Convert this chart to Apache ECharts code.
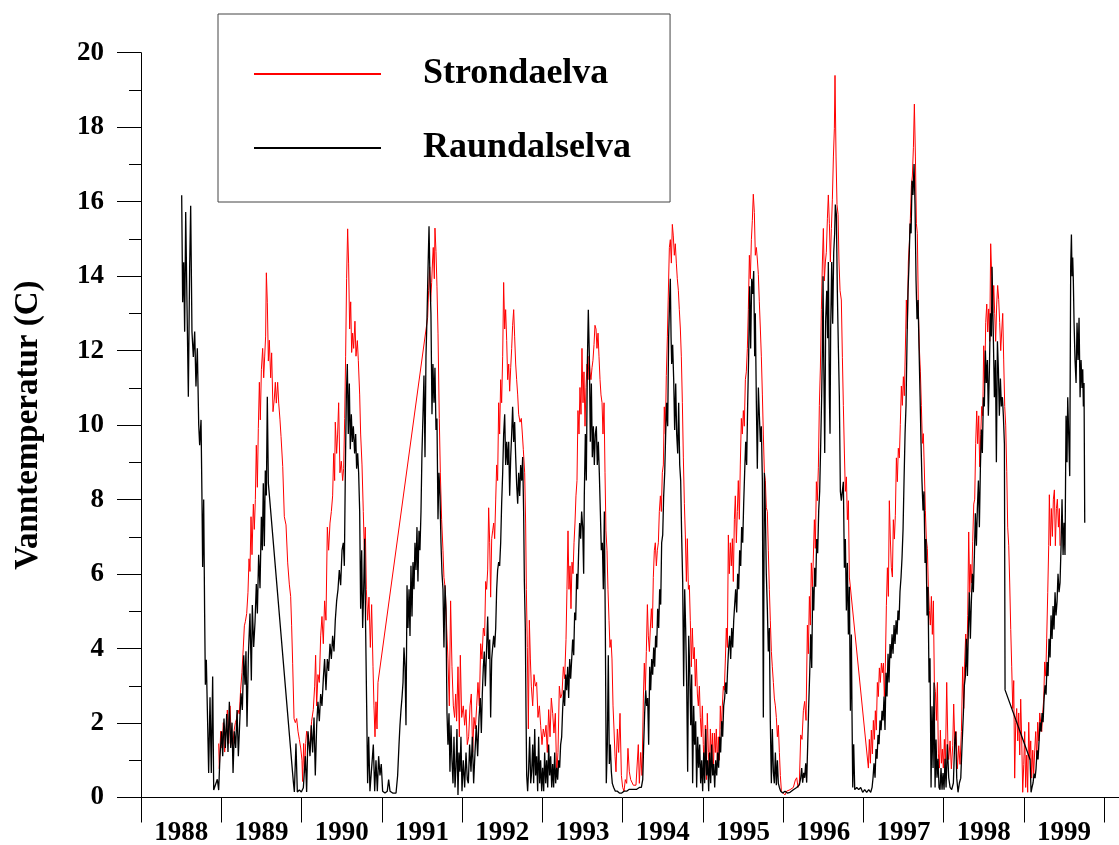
<!DOCTYPE html>
<html>
<head>
<meta charset="utf-8">
<script src="https://cdn.jsdelivr.net/npm/echarts@6/dist/echarts.min.js"></script>
<style>
  html, body { margin: 0; padding: 0; background: #fff; }
  #chart { width: 1119px; height: 845px; }
</style>
</head>
<body>
<div id="chart"></div>
<script>
// x-axis year bands
var years = ['1988', '1989', '1990', '1991', '1992', '1993', '1994', '1995', '1996', '1997', '1998', '1999'];

// Strondaelva, [decimal year, temp C]
var strondaelva8889 = [[1988.968,1.45],[1988.976,0.77],[1988.993,1.78],[1989.009,1.33],[1989.026,2.01],[1989.043,1.22],[1989.059,1.78],[1989.076,2.35],[1989.093,1.45],[1989.109,2.46],[1989.126,1.56],[1989.142,1.33],[1989.159,1.78],[1989.176,2.01],[1989.192,2.12],[1989.209,2.35],[1989.225,2.24],[1989.242,2.91],[1989.258,3.36],[1989.275,4.04],[1989.288,4.61],[1989.300,4.72],[1989.317,4.94],[1989.333,5.51],[1989.346,6.41],[1989.358,6.07],[1989.371,7.54],[1989.383,6.52],[1989.400,7.88],[1989.412,7.20],[1989.425,8.00],[1989.437,9.46],[1989.450,8.33],[1989.462,9.91],[1989.475,11.15],[1989.487,10.14],[1989.500,11.49],[1989.516,12.06],[1989.529,11.27],[1989.541,11.83],[1989.553,12.39],[1989.562,14.09],[1989.574,13.30],[1989.587,11.72],[1989.599,12.28],[1989.616,11.27],[1989.628,11.94],[1989.645,10.36],[1989.661,10.70],[1989.674,11.15],[1989.686,10.59],[1989.703,11.15],[1989.716,10.59],[1989.732,10.14],[1989.745,9.69],[1989.766,8.89],[1989.786,7.54],[1989.807,7.32],[1989.828,6.30],[1989.848,5.73],[1989.865,5.40],[1989.877,4.61],[1989.890,3.59],[1989.907,2.12],[1989.923,2.01],[1989.940,2.12],[1989.956,1.78],[1989.973,1.56],[1989.990,1.33],[1990.006,1.00],[1990.014,0.43],[1990.027,1.45],[1990.039,0.66],[1990.052,1.45],[1990.064,1.78],[1990.081,1.56]];
var strondaelva9091 = [[1990.106,1.42],[1990.126,2.05],[1990.147,2.36],[1990.164,2.99],[1990.176,3.82],[1990.189,2.46],[1990.205,3.30],[1990.222,3.09],[1990.239,4.34],[1990.255,4.86],[1990.272,4.13],[1990.288,5.28],[1990.305,4.76],[1990.322,7.26],[1990.338,6.64],[1990.355,7.37],[1990.372,7.68],[1990.388,8.10],[1990.401,9.24],[1990.413,8.51],[1990.421,10.08],[1990.438,9.24],[1990.450,9.76],[1990.463,10.60],[1990.479,8.72],[1990.496,9.03],[1990.513,8.51],[1990.525,8.83],[1990.538,10.18],[1990.550,11.85],[1990.562,13.93],[1990.575,15.27],[1990.587,14.35],[1990.600,12.58],[1990.613,13.31],[1990.625,11.95],[1990.637,12.47],[1990.650,12.06],[1990.666,12.79],[1990.679,11.85],[1990.696,12.27],[1990.708,11.74],[1990.725,10.81],[1990.737,9.76],[1990.754,8.93],[1990.770,7.68],[1990.783,6.64],[1990.795,7.26],[1990.808,5.59],[1990.824,4.76],[1990.841,5.38],[1990.858,4.03],[1990.874,5.18],[1990.891,3.51],[1990.903,2.46],[1990.916,1.63],[1990.928,2.57],[1990.941,1.84],[1990.953,3.09],[1991.572,12.89],[1991.584,13.62],[1991.597,14.25],[1991.609,13.31],[1991.622,13.83],[1991.634,14.46],[1991.642,14.77],[1991.655,13.93],[1991.663,15.29],[1991.676,14.66],[1991.688,13.73],[1991.701,12.47],[1991.717,10.18],[1991.730,8.72],[1991.746,7.47],[1991.763,6.64],[1991.775,5.91],[1991.792,5.59],[1991.809,4.55],[1991.825,3.72],[1991.842,2.46],[1991.858,5.28],[1991.875,3.51],[1991.892,2.46],[1991.908,2.15],[1991.921,2.78],[1991.933,2.05],[1991.950,3.51],[1991.967,1.63],[1991.979,3.82],[1991.996,2.15],[1992.016,2.46],[1992.033,1.94],[1992.050,2.36],[1992.066,1.42]];
var strondaelva9293 = [[1992.083,1.63],[1992.100,2.46],[1992.116,2.78],[1992.133,1.21],[1992.149,2.15],[1992.166,1.84],[1992.183,2.46],[1992.199,3.09],[1992.216,2.46],[1992.233,4.13],[1992.249,3.72],[1992.266,4.55],[1992.282,4.34],[1992.295,5.80],[1992.307,5.59],[1992.320,6.11],[1992.332,7.78],[1992.345,6.84],[1992.357,5.38],[1992.370,6.95],[1992.382,7.16],[1992.395,7.37],[1992.407,6.95],[1992.420,7.99],[1992.432,8.93],[1992.444,8.51],[1992.457,10.60],[1992.469,9.76],[1992.482,11.22],[1992.494,10.60],[1992.507,11.85],[1992.519,13.83],[1992.532,12.58],[1992.544,13.10],[1992.557,12.27],[1992.569,11.22],[1992.582,11.64],[1992.594,10.91],[1992.607,11.54],[1992.619,12.06],[1992.631,12.68],[1992.644,13.10],[1992.656,12.37],[1992.669,11.64],[1992.681,11.22],[1992.694,10.81],[1992.706,10.29],[1992.723,10.08],[1992.739,10.18],[1992.752,9.76],[1992.764,9.35],[1992.781,8.72],[1992.793,7.37],[1992.802,5.59],[1992.814,4.03],[1992.827,1.84],[1992.839,4.76],[1992.852,3.72],[1992.864,2.99],[1992.881,2.46],[1992.897,3.30],[1992.914,2.99],[1992.930,3.09],[1992.947,2.15],[1992.964,2.46],[1992.980,1.94],[1992.997,1.42],[1993.013,1.84],[1993.030,1.63],[1993.047,1.94],[1993.063,1.21],[1993.080,2.36],[1993.097,1.63],[1993.113,2.67],[1993.130,2.26],[1993.146,1.73],[1993.163,2.26],[1993.180,0.59],[1993.196,1.21],[1993.213,2.99],[1993.229,2.67],[1993.246,2.78],[1993.263,3.51],[1993.279,3.19],[1993.296,4.24],[1993.308,5.59],[1993.321,7.16],[1993.333,5.59],[1993.346,6.22],[1993.358,5.07],[1993.371,6.32],[1993.383,6.01],[1993.396,6.84],[1993.408,7.37],[1993.420,8.10],[1993.433,8.51],[1993.445,10.39],[1993.458,9.76],[1993.470,11.01],[1993.483,10.29],[1993.495,12.06],[1993.508,10.60],[1993.520,11.43],[1993.533,9.97],[1993.545,11.01],[1993.558,11.64],[1993.570,11.22],[1993.583,11.85],[1993.595,11.43],[1993.607,11.22],[1993.620,11.54],[1993.632,11.74],[1993.645,12.16],[1993.657,12.68],[1993.670,12.58],[1993.682,12.06],[1993.695,12.47],[1993.707,11.85],[1993.720,11.22],[1993.732,10.81],[1993.745,10.60],[1993.757,9.76],[1993.770,10.60],[1993.782,8.72],[1993.794,7.16],[1993.807,6.64],[1993.819,5.59],[1993.832,4.76],[1993.844,4.03],[1993.857,4.24],[1993.869,3.72],[1993.882,2.46],[1993.894,1.84],[1993.907,1.11],[1993.919,0.69],[1993.936,1.84],[1993.952,1.21],[1993.969,2.26],[1993.986,0.59],[1994.002,0.27],[1994.019,0.17],[1994.035,0.48],[1994.052,0.38],[1994.068,1.32],[1994.085,0.69]];
var strondaelva9495 = [[1994.102,0.48],[1994.135,0.33],[1994.168,0.33],[1994.197,1.42],[1994.210,0.38],[1994.227,1.21],[1994.243,0.59],[1994.260,2.67],[1994.272,3.61],[1994.285,2.88],[1994.297,3.92],[1994.310,5.18],[1994.322,4.34],[1994.335,3.92],[1994.347,4.55],[1994.360,5.07],[1994.372,4.55],[1994.384,5.91],[1994.397,6.64],[1994.409,6.84],[1994.422,6.22],[1994.434,6.64],[1994.447,6.84],[1994.459,7.68],[1994.472,8.10],[1994.484,7.68],[1994.496,8.72],[1994.509,8.93],[1994.521,10.49],[1994.534,9.76],[1994.546,11.33],[1994.559,12.37],[1994.571,13.52],[1994.584,14.77],[1994.596,14.98],[1994.609,14.35],[1994.621,15.39],[1994.633,15.08],[1994.646,14.56],[1994.658,14.87],[1994.671,14.35],[1994.683,13.93],[1994.696,13.62],[1994.708,13.10],[1994.721,12.58],[1994.733,11.85],[1994.746,10.60],[1994.758,9.14],[1994.771,7.89],[1994.783,7.05],[1994.796,5.80],[1994.808,6.95],[1994.821,5.59],[1994.833,5.70],[1994.845,4.76],[1994.858,3.51],[1994.870,4.55],[1994.883,3.72],[1994.895,4.03],[1994.908,2.99],[1994.920,3.72],[1994.933,2.78],[1994.945,2.46],[1994.958,2.99],[1994.970,2.15],[1994.983,1.63],[1994.995,2.46],[1995.007,1.42],[1995.020,0.59],[1995.032,1.94],[1995.045,0.48],[1995.057,2.26],[1995.070,1.21],[1995.082,0.59],[1995.095,1.84],[1995.107,1.00],[1995.120,1.73],[1995.132,0.69],[1995.145,1.73],[1995.157,1.21],[1995.169,1.84],[1995.182,0.90],[1995.194,1.63],[1995.207,1.00],[1995.219,2.46],[1995.232,1.84],[1995.244,2.46],[1995.257,2.99],[1995.269,2.88],[1995.282,3.72],[1995.294,4.55],[1995.307,4.03],[1995.319,7.05],[1995.331,6.01],[1995.344,6.84],[1995.356,6.22],[1995.369,6.95],[1995.381,5.80],[1995.394,7.47],[1995.406,8.10],[1995.419,6.84],[1995.431,7.68],[1995.443,8.51],[1995.456,7.47],[1995.468,8.93],[1995.481,10.18],[1995.493,9.76],[1995.506,10.39],[1995.518,9.97],[1995.531,11.22],[1995.543,11.43],[1995.556,12.06],[1995.568,13.10],[1995.581,14.56],[1995.593,13.93],[1995.606,14.98],[1995.618,15.50],[1995.630,16.20],[1995.643,15.71],[1995.655,14.56],[1995.668,14.77],[1995.680,14.46],[1995.693,14.04],[1995.705,13.31],[1995.718,12.58],[1995.730,11.85],[1995.743,10.81],[1995.755,9.76],[1995.768,8.72],[1995.780,8.51],[1995.792,7.78],[1995.805,7.68],[1995.817,6.64],[1995.830,5.59],[1995.842,4.76],[1995.855,3.92],[1995.867,3.51],[1995.880,3.09],[1995.892,2.67],[1995.905,2.46],[1995.917,2.15],[1995.930,1.63],[1995.942,1.94],[1995.955,1.21],[1995.967,0.59],[1995.980,0.17],[1996.004,0.17],[1996.025,0.07],[1996.046,0.17],[1996.067,0.12]];
var strondaelva9697 = [[1996.088,0.21],[1996.129,0.27],[1996.154,0.47],[1996.171,0.53],[1996.187,0.27],[1996.204,0.40],[1996.221,1.68],[1996.237,1.56],[1996.254,2.33],[1996.270,2.58],[1996.287,2.07],[1996.304,4.63],[1996.316,3.86],[1996.329,5.40],[1996.341,4.63],[1996.353,6.30],[1996.366,5.66],[1996.378,6.43],[1996.391,7.46],[1996.403,6.69],[1996.416,8.48],[1996.428,7.97],[1996.441,8.87],[1996.453,10.53],[1996.466,11.56],[1996.478,13.10],[1996.491,14.38],[1996.503,15.28],[1996.515,13.87],[1996.528,14.38],[1996.540,14.64],[1996.553,15.54],[1996.565,16.18],[1996.578,15.41],[1996.590,14.38],[1996.603,15.28],[1996.615,16.05],[1996.628,17.20],[1996.640,17.97],[1996.648,19.39],[1996.661,17.20],[1996.673,15.92],[1996.686,15.66],[1996.698,14.38],[1996.711,13.61],[1996.727,13.36],[1996.740,11.82],[1996.752,10.53],[1996.765,9.25],[1996.777,8.22],[1996.790,8.61],[1996.802,7.46],[1996.815,7.97],[1996.827,5.92],[1997.064,0.79],[1997.076,1.56],[1997.089,0.92],[1997.101,1.81],[1997.114,1.17],[1997.126,2.07],[1997.139,1.56],[1997.151,2.33],[1997.163,1.81],[1997.176,3.09],[1997.188,2.71],[1997.201,3.48],[1997.213,3.09],[1997.226,3.61],[1997.238,3.35],[1997.251,3.61],[1997.263,2.71],[1997.276,3.61],[1997.288,5.15],[1997.301,6.17],[1997.313,5.40],[1997.325,7.97],[1997.338,6.94],[1997.350,6.17],[1997.363,5.92],[1997.375,7.46],[1997.388,6.94],[1997.400,7.58],[1997.413,9.12],[1997.425,8.48],[1997.437,9.38],[1997.450,9.12],[1997.462,10.02],[1997.475,11.05],[1997.487,10.53],[1997.500,11.30],[1997.512,10.79],[1997.525,12.07],[1997.537,13.36],[1997.550,12.59],[1997.562,14.38],[1997.575,14.90],[1997.587,15.54],[1997.600,16.44],[1997.612,16.69],[1997.625,17.46],[1997.637,18.62],[1997.650,17.20],[1997.662,15.41],[1997.674,15.15],[1997.687,13.10],[1997.699,12.07],[1997.712,11.43],[1997.724,10.53],[1997.737,9.51],[1997.749,9.77],[1997.762,8.74],[1997.774,7.71],[1997.786,6.94],[1997.799,6.69],[1997.811,5.66],[1997.824,5.02],[1997.836,4.63],[1997.849,5.40],[1997.861,4.38],[1997.874,5.28],[1997.886,3.09],[1997.899,2.84],[1997.911,2.07],[1997.924,3.09],[1997.936,1.17],[1997.949,0.79],[1997.961,1.81],[1997.974,0.92],[1997.986,1.30],[1997.998,0.79],[1998.011,1.56],[1998.023,0.79],[1998.040,3.09],[1998.057,1.17]];
var strondaelva9899 = [[1998.065,1.02],[1998.082,1.52],[1998.098,0.77],[1998.115,1.39],[1998.127,2.51],[1998.140,1.52],[1998.156,1.77],[1998.173,0.77],[1998.190,1.39],[1998.206,0.89],[1998.223,1.77],[1998.239,3.51],[1998.252,2.39],[1998.264,3.64],[1998.277,4.39],[1998.289,3.51],[1998.302,4.89],[1998.314,7.13],[1998.327,5.51],[1998.339,6.26],[1998.352,5.76],[1998.364,6.88],[1998.377,7.88],[1998.389,8.01],[1998.401,9.50],[1998.414,10.38],[1998.426,9.50],[1998.439,10.25],[1998.451,8.88],[1998.464,9.75],[1998.476,10.50],[1998.489,10.25],[1998.501,12.13],[1998.514,11.13],[1998.526,12.75],[1998.539,13.25],[1998.551,12.50],[1998.563,13.12],[1998.576,12.25],[1998.588,14.87],[1998.601,14.00],[1998.613,13.00],[1998.626,13.75],[1998.638,13.00],[1998.650,12.25],[1998.663,13.25],[1998.675,13.75],[1998.688,13.37],[1998.700,12.75],[1998.713,12.00],[1998.725,12.50],[1998.738,13.00],[1998.750,11.75],[1998.763,10.50],[1998.775,10.00],[1998.788,8.76],[1998.800,7.26],[1998.813,6.76],[1998.825,5.76],[1998.838,4.51],[1998.850,3.51],[1998.863,2.39],[1998.875,3.14],[1998.887,0.52],[1998.900,2.02],[1998.912,2.39],[1998.925,1.52],[1998.937,2.27],[1998.950,1.14],[1998.962,2.64],[1998.975,1.52],[1998.987,0.14],[1999.000,0.89],[1999.012,1.77],[1999.024,0.27],[1999.037,1.14],[1999.049,0.14],[1999.062,2.02],[1999.074,1.02],[1999.087,1.52],[1999.099,0.52],[1999.112,1.27],[1999.124,0.64],[1999.137,1.27],[1999.149,1.77],[1999.162,1.02],[1999.174,2.02],[1999.187,1.52],[1999.199,2.27],[1999.211,2.02],[1999.224,1.77],[1999.236,2.27],[1999.249,2.64],[1999.261,3.64],[1999.274,3.26],[1999.286,4.26],[1999.299,5.51],[1999.311,6.76],[1999.319,8.13],[1999.332,6.76],[1999.344,7.76],[1999.357,7.01],[1999.369,8.01],[1999.382,8.26],[1999.394,6.76],[1999.407,7.76],[1999.419,8.01],[1999.432,7.26],[1999.444,7.76],[1999.452,6.76]];

// Raundalselva, [decimal year, temp C]
var raundalselva8889 = [[1988.507,16.17],[1988.519,13.30],[1988.532,14.37],[1988.544,12.51],[1988.557,15.72],[1988.569,13.86],[1988.590,10.76],[1988.606,14.20],[1988.619,15.89],[1988.635,12.51],[1988.652,11.83],[1988.669,12.51],[1988.685,11.04],[1988.702,12.06],[1988.719,10.02],[1988.731,9.46],[1988.748,10.14],[1988.760,8.00],[1988.768,6.19],[1988.781,8.00],[1988.793,4.94],[1988.802,3.03],[1988.814,3.70],[1988.827,2.35],[1988.843,0.66],[1988.860,2.69],[1988.876,0.66],[1988.893,3.25],[1988.906,0.20],[1988.926,0.15],[1988.951,0.49],[1988.968,0.20],[1988.984,1.11],[1989.005,1.78],[1989.018,1.11],[1989.034,2.12],[1989.051,1.33],[1989.068,2.24],[1989.084,1.22],[1989.101,2.57],[1989.118,1.33],[1989.134,2.01],[1989.147,0.66],[1989.163,1.78],[1989.180,1.33],[1989.197,2.35],[1989.213,1.11],[1989.230,2.01],[1989.246,2.80],[1989.263,2.35],[1989.280,3.82],[1989.296,3.03],[1989.308,3.93],[1989.321,1.90],[1989.338,3.82],[1989.358,4.94],[1989.375,3.14],[1989.387,5.17],[1989.404,4.04],[1989.421,4.72],[1989.437,5.73],[1989.450,4.94],[1989.466,6.52],[1989.483,5.62],[1989.500,7.54],[1989.512,6.64],[1989.524,8.44],[1989.537,6.75],[1989.549,8.78],[1989.562,8.11],[1989.574,10.76],[1989.587,8.44],[1989.898,0.43],[1989.911,0.15],[1989.931,1.45],[1989.948,0.15],[1989.973,0.20],[1989.998,0.15],[1990.023,0.26],[1990.048,1.11],[1990.064,0.15],[1990.081,1.78]];
var raundalselva9091 = [[1990.106,1.11],[1990.122,1.94],[1990.139,1.21],[1990.156,2.15],[1990.172,0.59],[1990.189,1.94],[1990.205,2.57],[1990.222,2.05],[1990.239,2.78],[1990.255,2.46],[1990.272,3.19],[1990.288,3.72],[1990.305,2.88],[1990.322,3.72],[1990.338,3.40],[1990.355,4.13],[1990.372,3.72],[1990.388,4.34],[1990.405,3.92],[1990.421,4.76],[1990.438,5.28],[1990.455,5.59],[1990.471,6.11],[1990.488,5.70],[1990.505,6.64],[1990.521,6.84],[1990.534,6.22],[1990.546,8.72],[1990.559,10.81],[1990.571,11.64],[1990.583,9.76],[1990.596,11.12],[1990.608,9.35],[1990.621,10.29],[1990.633,9.55],[1990.646,9.97],[1990.662,9.24],[1990.675,9.76],[1990.687,8.83],[1990.700,9.24],[1990.712,8.72],[1990.725,7.68],[1990.737,5.07],[1990.750,6.64],[1990.762,4.55],[1990.775,5.59],[1990.787,6.95],[1990.799,4.55],[1990.812,2.46],[1990.824,0.38],[1990.837,1.63],[1990.853,0.17],[1990.874,0.12],[1990.895,1.42],[1990.912,0.17],[1990.928,1.00],[1990.945,0.17],[1990.961,1.11],[1990.978,0.59],[1990.994,0.90],[1991.011,0.17],[1991.040,0.12],[1991.069,0.17],[1991.086,0.48],[1991.103,0.17],[1991.136,0.12],[1991.178,0.12],[1991.198,0.59],[1991.215,1.42],[1991.227,1.94],[1991.240,2.36],[1991.252,2.67],[1991.265,3.09],[1991.277,4.03],[1991.290,3.51],[1991.302,1.94],[1991.315,5.70],[1991.327,4.55],[1991.340,5.59],[1991.352,4.34],[1991.364,6.22],[1991.377,4.86],[1991.389,6.32],[1991.402,5.59],[1991.414,6.84],[1991.427,6.11],[1991.439,7.26],[1991.451,5.80],[1991.464,7.16],[1991.476,6.64],[1991.489,7.68],[1991.501,9.24],[1991.514,10.29],[1991.526,11.33],[1991.539,9.14],[1991.551,11.85],[1991.564,12.89],[1991.576,14.14],[1991.589,15.34],[1991.601,13.93],[1991.613,12.99],[1991.626,10.29],[1991.638,11.64],[1991.651,10.60],[1991.663,11.54],[1991.676,9.87],[1991.688,10.18],[1991.701,7.47],[1991.713,8.72],[1991.726,8.10],[1991.738,6.84],[1991.751,6.01],[1991.763,5.59],[1991.775,4.03],[1991.788,5.70],[1991.800,5.07],[1991.813,2.26],[1991.825,1.42],[1991.838,2.26],[1991.850,0.69],[1991.863,1.94],[1991.875,1.00],[1991.888,0.38],[1991.900,1.63],[1991.913,0.27],[1991.925,0.80],[1991.937,1.84],[1991.950,0.07],[1991.962,1.21],[1991.975,0.69],[1991.987,1.63],[1992.000,0.17],[1992.016,1.00],[1992.033,0.27],[1992.050,1.21],[1992.066,0.48]];
var raundalselva9293 = [[1992.079,0.38],[1992.095,1.42],[1992.112,0.69],[1992.129,1.63],[1992.145,0.38],[1992.162,1.21],[1992.178,1.94],[1992.195,1.11],[1992.212,2.15],[1992.228,2.67],[1992.241,1.73],[1992.253,2.78],[1992.266,3.51],[1992.278,3.92],[1992.291,2.99],[1992.307,4.03],[1992.320,4.86],[1992.332,3.72],[1992.345,4.24],[1992.357,2.15],[1992.370,3.72],[1992.382,4.03],[1992.395,4.34],[1992.407,4.03],[1992.420,4.55],[1992.432,5.59],[1992.444,6.11],[1992.457,6.32],[1992.469,6.22],[1992.482,6.84],[1992.494,7.89],[1992.507,8.72],[1992.519,9.76],[1992.532,10.29],[1992.544,8.93],[1992.557,9.55],[1992.569,8.93],[1992.582,9.55],[1992.594,8.10],[1992.607,9.14],[1992.619,9.76],[1992.631,10.49],[1992.644,9.55],[1992.656,10.08],[1992.669,9.14],[1992.681,8.41],[1992.694,7.89],[1992.706,8.72],[1992.719,8.10],[1992.731,8.93],[1992.744,8.51],[1992.756,9.14],[1992.768,7.68],[1992.777,5.80],[1992.789,4.55],[1992.797,2.46],[1992.806,0.59],[1992.818,0.17],[1992.831,0.80],[1992.843,1.63],[1992.856,0.38],[1992.868,0.69],[1992.881,1.42],[1992.893,0.38],[1992.906,1.84],[1992.918,0.59],[1992.930,1.11],[1992.943,0.17],[1992.955,1.63],[1992.968,0.38],[1992.980,1.00],[1992.993,0.17],[1993.005,0.80],[1993.018,0.17],[1993.030,1.21],[1993.043,0.38],[1993.055,1.00],[1993.068,0.27],[1993.080,1.42],[1993.093,0.59],[1993.105,1.11],[1993.118,0.27],[1993.130,0.90],[1993.142,0.27],[1993.155,1.21],[1993.167,0.38],[1993.180,0.80],[1993.192,0.48],[1993.205,1.00],[1993.217,0.80],[1993.229,1.42],[1993.242,1.63],[1993.254,2.36],[1993.267,2.88],[1993.279,2.46],[1993.292,3.30],[1993.304,2.88],[1993.317,3.51],[1993.329,2.67],[1993.342,3.72],[1993.354,3.19],[1993.367,3.72],[1993.379,4.24],[1993.392,3.82],[1993.404,4.97],[1993.417,4.76],[1993.429,6.01],[1993.441,5.59],[1993.454,6.64],[1993.466,7.37],[1993.479,6.95],[1993.491,7.68],[1993.504,7.26],[1993.516,6.01],[1993.524,8.10],[1993.537,9.76],[1993.549,8.51],[1993.562,11.64],[1993.574,13.10],[1993.587,11.85],[1993.599,9.55],[1993.612,11.12],[1993.624,9.14],[1993.637,9.97],[1993.649,8.93],[1993.661,9.76],[1993.674,9.97],[1993.686,8.93],[1993.699,9.55],[1993.711,8.72],[1993.724,7.68],[1993.736,6.64],[1993.749,6.84],[1993.761,5.59],[1993.774,7.68],[1993.786,4.55],[1993.798,0.38],[1993.811,1.42],[1993.823,3.82],[1993.836,0.90],[1993.848,1.42],[1993.861,0.69],[1993.873,0.38],[1993.890,0.27],[1993.911,0.17],[1993.936,0.17],[1993.961,0.12],[1993.990,0.12],[1994.019,0.17],[1994.052,0.17],[1994.085,0.22]];
var raundalselva9495 = [[1994.094,0.19],[1994.135,0.22],[1994.177,0.22],[1994.210,0.27],[1994.235,0.27],[1994.252,0.48],[1994.264,1.42],[1994.276,2.26],[1994.289,2.88],[1994.301,2.46],[1994.314,2.67],[1994.326,1.42],[1994.339,3.51],[1994.351,2.88],[1994.364,3.72],[1994.376,3.30],[1994.389,4.03],[1994.401,3.51],[1994.413,4.34],[1994.426,4.03],[1994.438,5.07],[1994.451,4.55],[1994.463,5.59],[1994.476,5.18],[1994.488,6.84],[1994.501,7.05],[1994.513,8.10],[1994.526,8.72],[1994.538,9.76],[1994.550,10.60],[1994.563,9.97],[1994.575,12.37],[1994.588,13.41],[1994.596,13.93],[1994.605,12.37],[1994.613,11.64],[1994.625,12.16],[1994.638,11.22],[1994.650,9.87],[1994.663,11.12],[1994.675,9.76],[1994.688,9.24],[1994.700,10.60],[1994.713,8.93],[1994.725,8.51],[1994.737,7.05],[1994.750,5.80],[1994.762,2.99],[1994.775,5.59],[1994.787,4.55],[1994.800,2.99],[1994.812,0.69],[1994.825,4.34],[1994.837,3.51],[1994.850,1.94],[1994.862,3.30],[1994.874,0.38],[1994.887,2.46],[1994.899,1.42],[1994.912,2.05],[1994.924,0.27],[1994.937,1.63],[1994.949,0.80],[1994.962,1.42],[1994.974,0.38],[1994.987,1.00],[1994.999,0.17],[1995.012,1.21],[1995.024,0.38],[1995.037,1.84],[1995.049,0.59],[1995.061,1.00],[1995.074,0.17],[1995.086,1.21],[1995.099,0.38],[1995.111,1.42],[1995.124,0.59],[1995.136,0.90],[1995.149,0.27],[1995.161,1.00],[1995.174,0.59],[1995.186,1.21],[1995.198,0.80],[1995.211,1.63],[1995.223,1.21],[1995.236,2.05],[1995.248,1.63],[1995.261,2.46],[1995.273,2.67],[1995.286,3.09],[1995.298,2.78],[1995.311,3.51],[1995.323,4.03],[1995.336,4.34],[1995.348,3.72],[1995.361,4.55],[1995.373,4.03],[1995.386,4.76],[1995.398,5.18],[1995.410,5.59],[1995.423,4.97],[1995.435,6.01],[1995.448,5.59],[1995.460,6.64],[1995.473,6.22],[1995.485,7.26],[1995.498,6.84],[1995.510,7.89],[1995.522,8.72],[1995.535,9.55],[1995.547,8.93],[1995.560,10.60],[1995.572,11.85],[1995.585,13.73],[1995.597,12.06],[1995.610,13.93],[1995.622,13.52],[1995.635,14.14],[1995.647,11.85],[1995.655,13.00],[1995.668,10.60],[1995.680,8.83],[1995.693,11.01],[1995.705,10.29],[1995.718,9.55],[1995.730,9.97],[1995.743,8.51],[1995.755,2.15],[1995.768,8.72],[1995.780,7.68],[1995.792,6.01],[1995.805,5.07],[1995.817,3.92],[1995.830,4.55],[1995.842,2.05],[1995.855,0.38],[1995.867,1.84],[1995.880,0.69],[1995.892,0.38],[1995.905,1.21],[1995.917,0.33],[1995.930,1.00],[1995.942,0.38],[1995.955,0.27],[1995.971,0.17],[1995.996,0.12],[1996.025,0.17],[1996.054,0.12]];
var raundalselva9697 = [[1996.088,0.14],[1996.129,0.21],[1996.171,0.27],[1996.204,0.34],[1996.221,0.53],[1996.233,0.79],[1996.245,0.40],[1996.258,0.66],[1996.270,0.53],[1996.283,0.92],[1996.295,0.40],[1996.308,1.43],[1996.320,2.45],[1996.333,3.35],[1996.345,4.38],[1996.358,3.48],[1996.370,5.66],[1996.383,5.02],[1996.395,6.17],[1996.407,5.66],[1996.420,6.94],[1996.432,6.56],[1996.445,7.71],[1996.457,8.22],[1996.470,9.51],[1996.482,10.79],[1996.491,12.07],[1996.499,14.00],[1996.507,11.82],[1996.520,9.25],[1996.532,12.84],[1996.545,13.61],[1996.557,12.33],[1996.565,14.38],[1996.578,10.79],[1996.586,9.77],[1996.594,12.59],[1996.607,14.38],[1996.619,12.72],[1996.632,14.64],[1996.644,15.15],[1996.652,15.92],[1996.665,15.66],[1996.677,13.61],[1996.690,12.07],[1996.702,10.79],[1996.715,8.22],[1996.727,7.97],[1996.740,7.97],[1996.752,8.48],[1996.765,6.17],[1996.777,6.94],[1996.790,5.02],[1996.802,6.30],[1996.815,4.38],[1996.827,5.66],[1996.840,2.33],[1996.852,4.38],[1996.860,2.20],[1996.869,0.27],[1996.881,1.43],[1996.894,0.21],[1996.919,0.27],[1996.943,0.21],[1996.968,0.27],[1996.993,0.14],[1997.018,0.21],[1997.043,0.14],[1997.068,0.21],[1997.093,0.14],[1997.110,0.27],[1997.122,0.53],[1997.134,0.92],[1997.147,0.53],[1997.159,1.30],[1997.172,1.04],[1997.184,1.68],[1997.197,1.43],[1997.209,2.07],[1997.222,1.81],[1997.234,2.33],[1997.247,2.07],[1997.259,2.71],[1997.271,1.81],[1997.284,3.35],[1997.296,2.71],[1997.309,3.86],[1997.321,3.09],[1997.334,4.12],[1997.346,3.74],[1997.359,4.38],[1997.371,3.86],[1997.384,4.63],[1997.396,4.12],[1997.409,4.76],[1997.421,4.38],[1997.433,5.02],[1997.446,4.76],[1997.458,5.53],[1997.471,5.92],[1997.483,6.43],[1997.496,7.20],[1997.508,8.48],[1997.521,9.77],[1997.533,10.53],[1997.546,12.33],[1997.558,13.61],[1997.571,14.38],[1997.583,15.41],[1997.596,15.15],[1997.608,16.56],[1997.620,16.18],[1997.633,17.01],[1997.645,15.92],[1997.658,13.87],[1997.670,12.84],[1997.683,13.36],[1997.695,12.07],[1997.708,10.79],[1997.720,9.51],[1997.732,8.48],[1997.745,7.71],[1997.757,8.22],[1997.770,6.30],[1997.782,6.94],[1997.795,4.89],[1997.807,5.66],[1997.820,3.09],[1997.832,3.74],[1997.845,0.27],[1997.857,2.45],[1997.870,0.79],[1997.882,3.09],[1997.895,0.27],[1997.907,1.56],[1997.919,0.53],[1997.932,1.04],[1997.944,0.27],[1997.957,0.21],[1997.969,0.79],[1997.982,0.21],[1997.994,0.66],[1998.007,0.21],[1998.019,1.04],[1998.032,0.27],[1998.048,1.43],[1998.065,0.53]];
var raundalselva9899 = [[1998.082,0.27],[1998.102,0.21],[1998.123,0.39],[1998.140,1.52],[1998.152,1.77],[1998.165,0.52],[1998.181,0.14],[1998.198,0.39],[1998.215,0.52],[1998.231,1.39],[1998.248,2.27],[1998.260,3.01],[1998.273,3.26],[1998.285,4.26],[1998.298,3.26],[1998.310,4.51],[1998.322,5.51],[1998.335,4.26],[1998.347,5.26],[1998.360,6.01],[1998.372,5.51],[1998.385,6.51],[1998.397,7.63],[1998.410,6.76],[1998.422,7.76],[1998.435,8.51],[1998.447,7.26],[1998.460,8.88],[1998.472,9.88],[1998.484,9.25],[1998.497,10.75],[1998.509,10.50],[1998.522,12.00],[1998.534,11.13],[1998.547,11.75],[1998.559,10.25],[1998.572,11.50],[1998.584,13.00],[1998.597,12.38],[1998.605,14.25],[1998.613,13.25],[1998.622,12.25],[1998.634,10.75],[1998.647,11.75],[1998.659,9.00],[1998.672,12.25],[1998.684,11.50],[1998.696,10.25],[1998.709,11.25],[1998.721,10.50],[1998.734,10.75],[1998.746,10.25],[1998.759,9.50],[1998.767,2.89],[1999.079,1.02],[1999.091,0.14],[1999.103,0.27],[1999.116,0.39],[1999.128,0.64],[1999.141,0.52],[1999.153,0.77],[1999.166,1.27],[1999.178,1.02],[1999.191,1.52],[1999.203,2.02],[1999.216,1.77],[1999.228,2.27],[1999.241,2.02],[1999.253,2.64],[1999.265,3.01],[1999.278,2.76],[1999.290,3.64],[1999.303,3.26],[1999.315,4.26],[1999.328,3.76],[1999.340,4.89],[1999.353,4.26],[1999.365,5.14],[1999.377,4.51],[1999.390,5.51],[1999.402,4.89],[1999.415,5.26],[1999.427,6.01],[1999.440,5.51],[1999.452,5.76],[1999.465,6.76],[1999.477,8.01],[1999.490,6.51],[1999.502,7.38],[1999.514,6.51],[1999.527,10.25],[1999.539,9.00],[1999.548,10.75],[1999.560,9.75],[1999.573,8.63],[1999.585,14.25],[1999.594,15.12],[1999.602,14.00],[1999.610,14.50],[1999.618,13.87],[1999.627,12.75],[1999.639,11.75],[1999.652,11.13],[1999.664,12.75],[1999.677,11.75],[1999.689,12.88],[1999.702,10.75],[1999.714,11.75],[1999.726,11.00],[1999.735,11.50],[1999.743,10.50],[1999.751,11.13],[1999.760,7.38]];

var strondaelva = [].concat(strondaelva8889, strondaelva9091, strondaelva9293, strondaelva9495, strondaelva9697, strondaelva9899);
var raundalselva = [].concat(raundalselva8889, raundalselva9091, raundalselva9293, raundalselva9495, raundalselva9697, raundalselva9899);

var serif = 'Liberation Serif, Times New Roman, serif';

var chart = echarts.init(document.getElementById('chart'));
chart.setOption({
  animation: false,
  backgroundColor: '#fff',
  grid: { left: 141, right: 15, top: 52.7, bottom: 47.5, outerBoundsMode: 'none' },
  legend: {
    orient: 'vertical',
    left: 218,
    top: 14,
    padding: [42, 39, 36, 35],
    itemGap: 38,
    itemWidth: 127,
    itemHeight: 14,
    borderColor: '#444',
    borderWidth: 1,
    itemStyle: { opacity: 0 },
    data: ['Strondaelva', 'Raundalselva'],
    textStyle: { fontFamily: serif, fontWeight: 'bold', fontSize: 36, color: '#000', padding: [0, 0, 0, 37] }
  },
  xAxis: [
    { type: 'value', min: 1988, max: 2000, show: false },
    {
      type: 'category',
      data: years,
      position: 'bottom',
      axisLine: { show: true, onZero: false, lineStyle: { color: '#000', width: 1 } },
      axisTick: { show: true, interval: 0, alignWithLabel: false, length: 25, lineStyle: { color: '#000' } },
      axisLabel: { interval: 0, margin: 22, color: '#000', fontFamily: serif, fontWeight: 'bold', fontSize: 27 },
      splitLine: { show: false }
    }
  ],
  yAxis: {
    type: 'value',
    min: 0,
    max: 20,
    interval: 2,
    name: 'Vanntemperatur (C)',
    nameLocation: 'middle',
    nameGap: 96,
    nameTextStyle: { fontFamily: serif, fontWeight: 'bold', fontSize: 33, color: '#000' },
    axisLine: { show: true, onZero: false, lineStyle: { color: '#000', width: 1 } },
    axisTick: { show: true, length: 24, lineStyle: { color: '#000' } },
    minorTick: { show: true, splitNumber: 2, length: 12, lineStyle: { color: '#000' } },
    axisLabel: { margin: 37, color: '#000', fontFamily: serif, fontWeight: 'bold', fontSize: 27 },
    splitLine: { show: false }
  },
  // the x axis line runs on past the last year tick to the page edge
  graphic: [{
    type: 'line',
    shape: { x1: 1104, y1: 797.5, x2: 1119, y2: 797.5 },
    style: { stroke: '#000', lineWidth: 1 }
  }],
  series: [
    {
      name: 'Strondaelva',
      type: 'line',
      xAxisIndex: 0,
      data: strondaelva,
      symbol: 'none',
      color: '#ff0000',
      lineStyle: { color: '#ff0000', width: 1 }
    },
    {
      name: 'Raundalselva',
      type: 'line',
      xAxisIndex: 0,
      data: raundalselva,
      symbol: 'none',
      color: '#000',
      lineStyle: { color: '#000', width: 1.3 }
    }
  ]
});
</script>
</body>
</html>
